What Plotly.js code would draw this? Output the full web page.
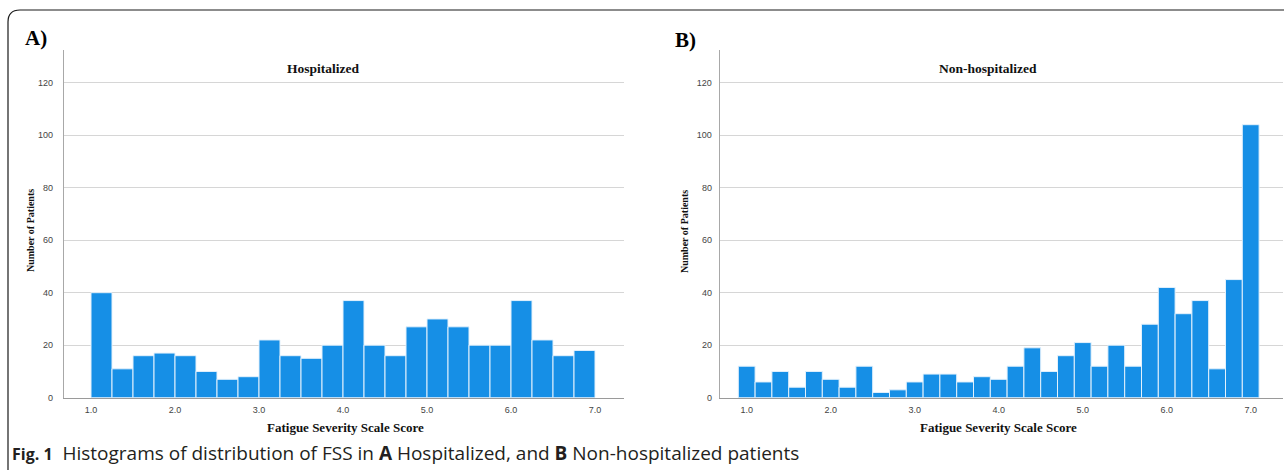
<!DOCTYPE html>
<html>
<head>
<meta charset="utf-8">
<script src="https://cdn.plot.ly/plotly-3.0.1.min.js"></script>
<style>
  html, body { margin: 0; padding: 0; background: #fff; }
  #chart { width: 1284px; height: 470px; }
</style>
</head>
<body>
<div id="chart"></div>
<script>
// ---- Data ----
// Panel A: Hospitalized, bins of width 0.25 from 1.0 to 7.0 (bin centers)
const hospBinCenters = [1.125, 1.375, 1.625, 1.875, 2.125, 2.375, 2.625, 2.875,
                        3.125, 3.375, 3.625, 3.875, 4.125, 4.375, 4.625, 4.875,
                        5.125, 5.375, 5.625, 5.875, 6.125, 6.375, 6.625, 6.875];
const hospCounts = [40, 11, 16, 17, 16, 10, 7, 8,
                    22, 16, 15, 20, 37, 20, 16, 27,
                    30, 27, 20, 20, 37, 22, 16, 18];
const hospBinWidth = 0.25;

// Panel B: Non-hospitalized, bins of width 0.2 centered on 1.0 ... 7.0
const nonHospBinCenters = [1.0, 1.2, 1.4, 1.6, 1.8, 2.0, 2.2, 2.4, 2.6, 2.8,
                           3.0, 3.2, 3.4, 3.6, 3.8, 4.0, 4.2, 4.4, 4.6, 4.8,
                           5.0, 5.2, 5.4, 5.6, 5.8, 6.0, 6.2, 6.4, 6.6, 6.8, 7.0];
const nonHospCounts = [12, 6, 10, 4, 10, 7, 4, 12, 2, 3,
                       6, 9, 9, 6, 8, 7, 12, 19, 10, 16,
                       21, 12, 20, 12, 28, 42, 32, 37, 11, 45, 104];
const nonHospBinWidth = 0.2;

const xTickVals = [1, 2, 3, 4, 5, 6, 7];
const xTickText = ['1.0', '2.0', '3.0', '4.0', '5.0', '6.0', '7.0'];
const yTickVals = [0, 20, 40, 60, 80, 100, 120];

const panelTitles = ['Hospitalized', 'Non-hospitalized'];
const panelLetters = ['A)', 'B)'];
const xTitle = 'Fatigue Severity Scale Score';
const yTitle = 'Number of Patients';

// ---- Layout helpers (pixel -> paper) ----
const W = 1284, H = 470;
const fx = x => x / W;
const fy = y => 1 - y / H;

const barColor = '#168fe6';
const barLine = { color: '#e3f1fc', width: 1 };
const serif = 'Liberation Serif, Times New Roman, serif';
const sans = 'Liberation Sans, Arial, sans-serif';

const traces = [
  {
    type: 'bar', x: hospBinCenters, y: hospCounts, width: hospBinWidth,
    marker: { color: barColor, line: barLine },
    xaxis: 'x', yaxis: 'y', hoverinfo: 'skip'
  },
  {
    type: 'bar', x: nonHospBinCenters, y: nonHospCounts, width: nonHospBinWidth,
    marker: { color: barColor, line: barLine },
    xaxis: 'x2', yaxis: 'y2', hoverinfo: 'skip'
  }
];

const yBottom = 397.7, yTop = 50, pxPerUnitY = 2.625;
const yMax = (yBottom - yTop) / pxPerUnitY;

function xAxisDef(left, right, oneAt, pxPerUnit, anchor) {
  return {
    domain: [fx(left), fx(right)],
    range: [1 - (oneAt - left) / pxPerUnit, 1 + (right - oneAt) / pxPerUnit],
    anchor: anchor,
    tickvals: xTickVals, ticktext: xTickText,
    showgrid: false, zeroline: false,
    showline: true, linecolor: '#9a9a9a', linewidth: 1,
    ticks: '', ticklabelstandoff: 3,
    tickfont: { family: sans, size: 9, color: '#444' },
    fixedrange: true
  };
}
function yAxisDef(anchor, standoff) {
  return {
    domain: [fy(yBottom), fy(yTop)],
    range: [0, yMax],
    anchor: anchor,
    tickvals: yTickVals,
    showgrid: true, gridcolor: '#d6d6d6', gridwidth: 1,
    zeroline: false,
    showline: true, linecolor: '#a8a8a8', linewidth: 1,
    ticks: '', ticklabelstandoff: standoff,
    tickfont: { family: sans, size: 9, color: '#444' },
    fixedrange: true
  };
}

const ann = [];
const letterPos = [[36, 38], [685, 40]];
const titlePos = [[323, 68], [988, 68]];
const yTitlePos = [[30, 231], [684, 231]];
const xTitlePos = [[346, 427], [998, 427]];
function addAnn(text, p, size, extra) {
  ann.push(Object.assign({
    text: text, x: fx(p[0]), y: fy(p[1]), xanchor: 'center', yanchor: 'middle',
    xref: 'paper', yref: 'paper', showarrow: false,
    font: { family: serif, size: size, color: '#111' }
  }, extra || {}));
}
for (let i = 0; i < 2; i++) {
  addAnn('<b>' + panelLetters[i] + '</b>', letterPos[i], 21, { font: { family: serif, size: 21, color: '#000' } });
  addAnn('<b>' + panelTitles[i] + '</b>', titlePos[i], 13.5);
  addAnn('<b>' + yTitle + '</b>', yTitlePos[i], 10, { textangle: -90 });
  addAnn('<b>' + xTitle + '</b>', xTitlePos[i], 13);
}
ann.push({
  text: '<span style="font-size:16px"><b>Fig. 1</b></span>\u00a0\u00a0Histograms of distribution of FSS in <b>A</b> Hospitalized, and <b>B</b> Non-hospitalized patients',
  x: fx(10), y: fy(453), xanchor: 'left', yanchor: 'middle',
  xref: 'paper', yref: 'paper', showarrow: false,
  font: { family: 'Open Sans, Noto Sans, sans-serif', size: 19, color: '#231f20' }
});

const borderPath = 'M ' + fx(8) + ',' + fy(490) +
  ' L ' + fx(8) + ',' + fy(22) +
  ' Q ' + fx(8) + ',' + fy(10) + ' ' + fx(20) + ',' + fy(10) +
  ' L ' + fx(1300) + ',' + fy(10);

const layout = {
  width: W, height: H,
  margin: { l: 0, r: 0, t: 0, b: 0, pad: 0 },
  paper_bgcolor: '#fff', plot_bgcolor: '#fff',
  showlegend: false, hovermode: false, bargap: 0,
  xaxis: xAxisDef(63.8, 624, 91, 84, 'y'),
  yaxis: yAxisDef('x', 8),
  xaxis2: xAxisDef(719.7, 1283, 746.7, 84, 'y2'),
  yaxis2: yAxisDef('x2', 5),
  annotations: ann,
  shapes: [{ type: 'path', xref: 'paper', yref: 'paper', path: borderPath,
             line: { color: '#1a1a1a', width: 1.2 } }]
};

Plotly.newPlot('chart', traces, layout, { staticPlot: true, displayModeBar: false });
</script>
</body>
</html>
